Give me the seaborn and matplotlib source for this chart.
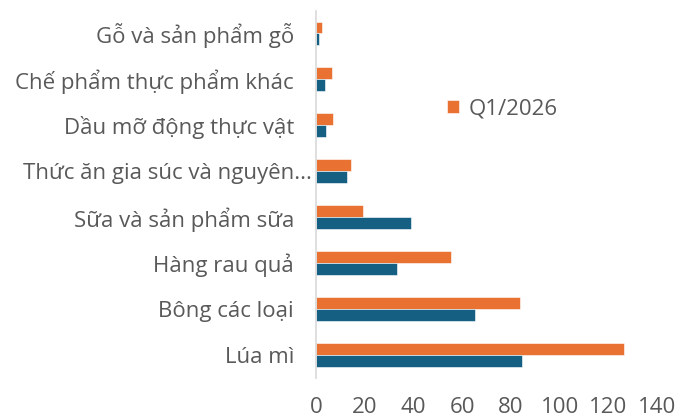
import pandas as pd
import numpy as np
import matplotlib.pyplot as plt
import matplotlib.transforms as mtransforms
import seaborn as sns

categories = ['Gỗ và sản phẩm gỗ', 'Chế phẩm thực phẩm khác', 'Dầu mỡ động thực vật',
              'Thức ăn gia súc và nguyên...', 'Sữa và sản phẩm sữa', 'Hàng rau quả',
              'Bông các loại', 'Lúa mì']
q1_2026 = [2.3, 6.5, 6.8, 14.1, 19.4, 55.2, 83.5, 126.5]
q1_2025 = [1.3, 3.5, 4.2, 12.8, 39.0, 33.3, 65.1, 84.4]

data = pd.DataFrame({
    'Nhóm hàng': categories * 2,
    'Giá trị': q1_2026 + q1_2025,
    'Kỳ': ['Q1/2026'] * len(categories) + ['Q1/2025'] * len(categories),
})

sns.set_style('white')
plt.rcParams['font.family'] = ['Open Sans', 'DejaVu Sans']

fig, ax = plt.subplots(figsize=(6.86, 4.2), dpi=100)
sns.barplot(data=data, y='Nhóm hàng', x='Giá trị', hue='Kỳ', order=categories,
            hue_order=['Q1/2026', 'Q1/2025'], palette=['#E97132', '#156082'],
            saturation=1, width=0.52, edgecolor='white', linewidth=0.4, ax=ax)

ax.set_xlim(0, 140)
ax.set_xticks(np.arange(0, 141, 20))
ax.set_xlabel('')
ax.set_ylabel('')
ax.tick_params(axis='both', labelsize=16, colors='#595959', length=0)
ax.tick_params(axis='y', pad=16)
ax.tick_params(axis='x', pad=14)
for side in ['top', 'right', 'bottom']:
    ax.spines[side].set_visible(False)
ax.spines['left'].set_color('#d9d9d9')
ax.spines['left'].set_linewidth(1.2)

# the truncated label runs closer to the axis, as in the source chart
shift = mtransforms.ScaledTranslation(13 / 72, 0, fig.dpi_scale_trans)
for lbl in ax.get_yticklabels():
    if lbl.get_text().endswith('...'):
        lbl.set_transform(lbl.get_transform() + shift)

handles, labels = ax.get_legend_handles_labels()
ax.legend([handles[0]], [labels[0]], loc='upper left', bbox_to_anchor=(0.325, 0.815),
          frameon=False, fontsize=16, labelcolor='#595959',
          handlelength=0.55, handleheight=0.55, handletextpad=0.4)

plt.subplots_adjust(left=0.461, right=0.958, top=0.975, bottom=0.1)
plt.savefig('out.png', dpi=100)
